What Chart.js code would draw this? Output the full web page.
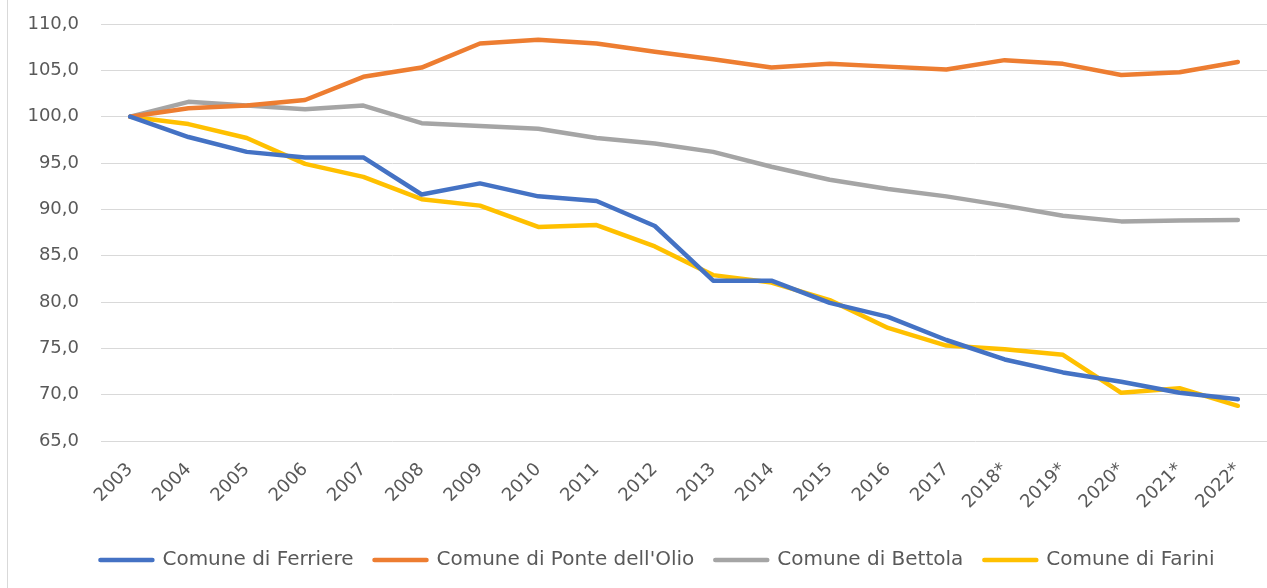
<!DOCTYPE html>
<html>
<head>
<meta charset="utf-8">
<script src="https://cdn.jsdelivr.net/npm/chart.js@4.4.0/dist/chart.umd.min.js"></script>
<style>
  html, body { margin: 0; padding: 0; background: #fff; overflow: hidden; }
  #wrap { position: relative; width: 1267px; height: 588px; }
  #frame { position: absolute; left: 7px; top: 0; width: 0; height: 588px; border-left: 1px solid #d9d9d9; }
  canvas { position: absolute; left: 0; top: 0; }
</style>
</head>
<body>
<div id="wrap">
  <div id="frame"></div>
  <canvas id="chart" width="1267" height="588"></canvas>
</div>
<script>
// Anni (con * = dati provvisori)
const anni = ['2003','2004','2005','2006','2007','2008','2009','2010','2011','2012',
              '2013','2014','2015','2016','2017','2018*','2019*','2020*','2021*','2022*'];

// Indici popolazione (2003 = 100)
const ferriere = [100, 97.8, 96.2, 95.6, 95.6, 91.6, 92.8, 91.4, 90.9, 88.2,
                  82.3, 82.3, 79.9, 78.4, 75.9, 73.8, 72.4, 71.4, 70.2, 69.5];
const ponteOlio = [100, 100.9, 101.2, 101.8, 104.3, 105.3, 107.9, 108.3, 107.9, 107.0,
                   106.2, 105.3, 105.7, 105.4, 105.1, 106.1, 105.7, 104.5, 104.8, 105.9];
const bettola = [100, 101.6, 101.2, 100.8, 101.2, 99.3, 99.0, 98.7, 97.7, 97.1,
                 96.2, 94.6, 93.2, 92.2, 91.4, 90.4, 89.3, 88.7, 88.8, 88.85];
const farini = [100, 99.2, 97.7, 94.9, 93.5, 91.1, 90.4, 88.1, 88.3, 86.0,
                82.9, 82.1, 80.2, 77.2, 75.3, 74.9, 74.3, 70.2, 70.7, 68.8];

const yMin = 65, yMax = 110, yStep = 5;

const textColor = '#595959';
const fontBase = { family: 'DejaVu Sans', size: 18 };
const fontLegend = { family: 'DejaVu Sans', size: 20 };

function serie(label, data, color) {
    return {
        label: label,
        data: data,
        borderColor: color,
        backgroundColor: color,
        borderWidth: 4.5,
        borderCapStyle: 'round',
        borderJoinStyle: 'round',
        pointRadius: 0,
        pointHoverRadius: 0,
        tension: 0,
        fill: false
    };
}

// sposta la legenda un po' a destra (come nel grafico Excel)
const legendShift = {
    id: 'legendShift',
    afterLayout(chart) {
        const lg = chart.legend;
        if (!lg) return;
        lg.left += 24;
        lg.right += 24;
    }
};

new Chart(document.getElementById('chart').getContext('2d'), {
    type: 'line',
    data: {
        labels: anni,
        datasets: [
            serie('Comune di Ferriere', ferriere, '#4472C4'),
            serie("Comune di Ponte dell'Olio", ponteOlio, '#ED7D31'),
            serie('Comune di Bettola', bettola, '#A5A5A5'),
            serie('Comune di Farini', farini, '#FFC000')
        ]
    },
    plugins: [legendShift],
    options: {
        responsive: false,
        animation: false,
        layout: { padding: { left: 0, right: 0, top: 24, bottom: 8 } },
        plugins: {
            tooltip: { enabled: false },
            legend: {
                position: 'bottom',
                labels: {
                    boxWidth: 52,
                    boxHeight: 0,
                    padding: 21,
                    color: textColor,
                    font: fontLegend
                }
            }
        },
        scales: {
            x: {
                offset: true,
                grid: { display: false },
                border: { display: false },
                ticks: {
                    color: textColor,
                    font: fontBase,
                    maxRotation: 45,
                    minRotation: 45,
                    autoSkip: false,
                    padding: 10
                },
                afterFit: s => { s.height = 88; s.paddingLeft = 0; s.paddingRight = 0; }
            },
            y: {
                min: yMin,
                max: yMax,
                grid: { color: '#d9d9d9', lineWidth: 1, drawTicks: false },
                border: { display: false },
                ticks: {
                    stepSize: yStep,
                    color: textColor,
                    font: fontBase,
                    padding: 22,
                    callback: v => v.toFixed(1).replace('.', ',')
                },
                afterFit: s => { s.width = 101; s.paddingTop = 0; s.paddingBottom = 0; }
            }
        }
    }
});
</script>
</body>
</html>
